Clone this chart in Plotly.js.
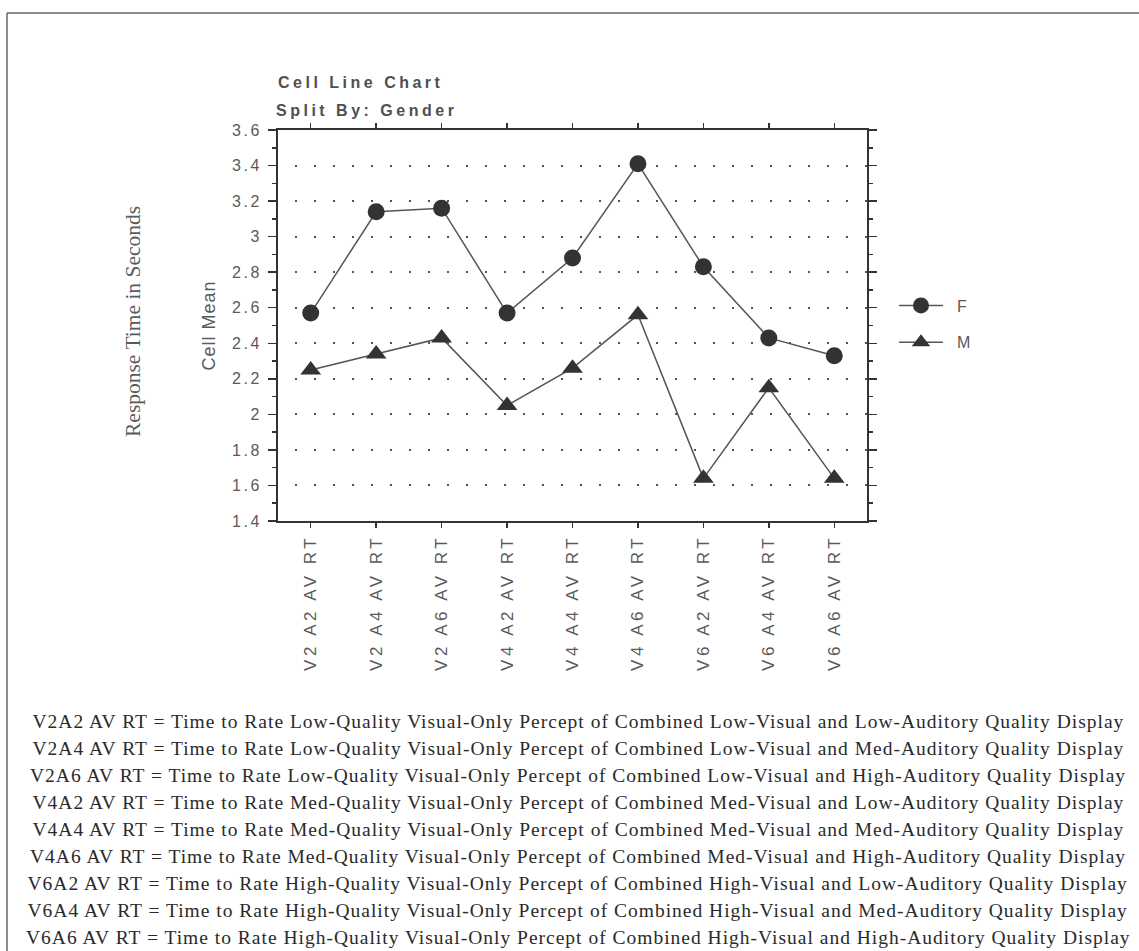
<!DOCTYPE html>
<html><head><meta charset="utf-8">
<script src="https://cdn.plot.ly/plotly-3.0.1.min.js"></script>
<style>
body{margin:0;background:#fff}
#chart{width:1139px;height:951px}
.xtick text{letter-spacing:3.5px}
.ytick text{letter-spacing:2.5px}
.gtitle{letter-spacing:3.5px}
.g-ytitle text{letter-spacing:1px}
.legend .scrollbox{clip-path:none !important}
.legendtext{transform:translateX(9px)}
.annotation[data-index="0"] text{letter-spacing:3.5px}
.annotation[data-index="2"] text, .annotation[data-index="3"] text, .annotation[data-index="4"] text,
.annotation[data-index="5"] text, .annotation[data-index="6"] text, .annotation[data-index="7"] text,
.annotation[data-index="8"] text, .annotation[data-index="9"] text, .annotation[data-index="10"] text{letter-spacing:1px}
</style></head><body><div id="chart"></div><script>
// ---- data ----
const categories = ['V2 A2 AV RT','V2 A4 AV RT','V2 A6 AV RT','V4 A2 AV RT','V4 A4 AV RT','V4 A6 AV RT','V6 A2 AV RT','V6 A4 AV RT','V6 A6 AV RT'];
const femaleMeans = [2.57, 3.14, 3.16, 2.57, 2.88, 3.41, 2.83, 2.43, 2.33];
const maleMeans   = [2.25, 2.34, 2.43, 2.05, 2.26, 2.56, 1.64, 2.15, 1.64];
const seriesNames = ['F', 'M'];
const yTickVals = [1.4, 1.6, 1.8, 2, 2.2, 2.4, 2.6, 2.8, 3, 3.2, 3.4, 3.6];
const yTickText = ['1.4','1.6','1.8','2','2.2','2.4','2.6','2.8','3','3.2','3.4','3.6'];
const chartTitle = 'Cell Line Chart';
const chartSubtitle = 'Split By: Gender';
const yTitle = 'Cell Mean';
const outerYTitle = 'Response Time in Seconds';
const footnotes = [
 'V2A2 AV RT = Time to Rate Low-Quality Visual-Only Percept of Combined Low-Visual and Low-Auditory Quality Display',
 'V2A4 AV RT = Time to Rate Low-Quality Visual-Only Percept of Combined Low-Visual and Med-Auditory Quality Display',
 'V2A6 AV RT = Time to Rate Low-Quality Visual-Only Percept of Combined Low-Visual and High-Auditory Quality Display',
 'V4A2 AV RT = Time to Rate Med-Quality Visual-Only Percept of Combined Med-Visual and Low-Auditory Quality Display',
 'V4A4 AV RT = Time to Rate Med-Quality Visual-Only Percept of Combined Med-Visual and Med-Auditory Quality Display',
 'V4A6 AV RT = Time to Rate Med-Quality Visual-Only Percept of Combined Med-Visual and High-Auditory Quality Display',
 'V6A2 AV RT = Time to Rate High-Quality Visual-Only Percept of Combined High-Visual and Low-Auditory Quality Display',
 'V6A4 AV RT = Time to Rate High-Quality Visual-Only Percept of Combined High-Visual and Med-Auditory Quality Display',
 'V6A6 AV RT = Time to Rate High-Quality Visual-Only Percept of Combined High-Visual and High-Auditory Quality Display'
];

// ---- layout geometry (pixels) ----
const W = 1139, H = 951;
const L = 278, R = 867, T = 130, B = 521;
const pw = R - L, ph = B - T;
const px2x = p => (p - L) / pw;
const px2y = p => (B - p) / ph;

const sans = 'Arial, "Liberation Sans", sans-serif';
const serif = '"Times New Roman", "Liberation Serif", serif';
const grey = '#5a5a5a';
const dark = '#333333';

const traces = [
  {x: categories, y: femaleMeans, name: seriesNames[0], type: 'scatter', mode: 'lines+markers',
   line: {color: '#555', width: 1.5}, marker: {symbol: 'circle', size: 17, color: dark},
   legendgroup: 'f'},
  {x: categories, y: maleMeans, name: seriesNames[1], type: 'scatter', mode: 'lines+markers',
   line: {color: '#555', width: 1.5}, marker: {symbol: 'triangle-up', size: 18, color: dark},
   legendgroup: 'm'}
];

const annotations = [
  {text: chartSubtitle, xref: 'paper', yref: 'paper', x: px2x(366), y: px2y(110), xanchor: 'center', yanchor: 'middle',
   showarrow: false, font: {family: sans, size: 16, color: '#505050', weight: 'bold'}},
  {text: outerYTitle, xref: 'paper', yref: 'paper', x: px2x(133), y: px2y(322), xanchor: 'center', yanchor: 'middle',
   textangle: -90, showarrow: false, font: {family: serif, size: 21.5, color: grey}}
];
footnotes.forEach((t, i) => {
  annotations.push({text: t, xref: 'paper', yref: 'paper', x: px2x(578), y: px2y(721 + 27 * i),
    xanchor: 'center', yanchor: 'middle', showarrow: false,
    font: {family: serif, size: 19.5, color: '#2a2a2a'}});
});

const layout = {
  width: W, height: H,
  margin: {l: L, r: W - R, t: T, b: H - B, pad: 0},
  paper_bgcolor: '#fff', plot_bgcolor: '#fff',
  showlegend: true,
  title: {text: chartTitle, x: 0, xref: 'paper', xanchor: 'left', y: 1 - 82 / H, yref: 'container', yanchor: 'middle',
    font: {family: sans, size: 16, color: '#505050', weight: 'bold'}},
  xaxis: {type: 'category', range: [-0.5, 8.5], showgrid: false, zeroline: false,
    showline: true, linecolor: dark, linewidth: 2, mirror: 'ticks',
    ticks: 'outside', ticklen: 5, tickwidth: 1.5, tickcolor: dark,
    tickangle: -90, tickfont: {family: sans, size: 17, color: grey}},
  yaxis: {range: [1.4, 3.6], tickvals: yTickVals, ticktext: yTickText,
    showgrid: true, gridcolor: '#555', gridwidth: 2, griddash: '0px,17px,2px,0px',
    zeroline: false, showline: true, linecolor: dark, linewidth: 2, mirror: 'ticks',
    ticks: 'outside', ticklen: 8, tickwidth: 1.5, tickcolor: dark, ticklabelstandoff: 3,
    minor: {dtick: 0.1, tick0: 1.4, ticks: 'outside', ticklen: 4, tickwidth: 1.5, tickcolor: dark, showgrid: false},
    tickfont: {family: sans, size: 16, color: grey},
    title: {text: yTitle, font: {family: sans, size: 18, color: grey}, standoff: 12}},
  legend: {x: px2x(894), y: px2y(324), xanchor: 'left', yanchor: 'middle', traceorder: 'grouped', tracegroupgap: 13,
    font: {family: sans, size: 16, color: grey}, bgcolor: 'rgba(0,0,0,0)', itemwidth: 44},
  annotations: annotations,
  shapes: [
    {type: 'line', xref: 'paper', yref: 'paper', x0: px2x(7), x1: px2x(1139), y0: px2y(13), y1: px2y(13), line: {color: '#666', width: 1.5}},
    {type: 'line', xref: 'paper', yref: 'paper', x0: px2x(7), x1: px2x(7), y0: px2y(13), y1: px2y(951), line: {color: '#666', width: 1.5}}
  ]
};

Plotly.newPlot('chart', traces, layout, {displayModeBar: false, staticPlot: true});
</script></body></html>
